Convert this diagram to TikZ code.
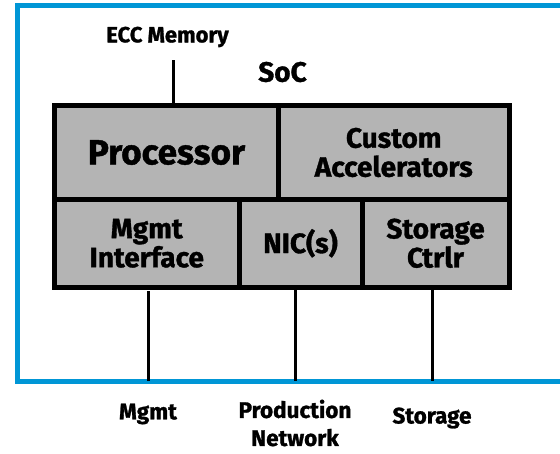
\documentclass[tikz,border=0pt]{standalone}
\usepackage{fontspec}
\setmainfont{Fira Sans}[BoldFeatures={FakeBold=1.2}]
\usetikzlibrary{positioning}

\definecolor{hpblue}{HTML}{0096D6}
\definecolor{cellgray}{HTML}{B4B4B4}

\tikzset{
  cell/.style={draw, line width=5pt, fill=cellgray, inner sep=0pt, outer sep=0pt,
    anchor=north west, align=center, font=\bfseries\fontsize{28}{29}\selectfont},
  lbl/.style={align=center, font=\bfseries\fontsize{22.5}{28}\selectfont},
  link/.style={line width=3pt}
}

\begin{document}
\begin{tikzpicture}[x=1pt, y=-1pt]
  \useasboundingbox (0,0) rectangle (560,453);
  % blue frame, its right side runs off the page
  \draw[hpblue, line width=5pt] (620,5.5) -- (17.5,5.5) -- (17.5,381) -- (620,381);
  % SoC blocks, top row
  \node[cell, minimum width=224pt, minimum height=94pt,
        font=\bfseries\fontsize{35}{40}\selectfont] (proc) at (54.5,105.5) {Processor};
  \node[cell, minimum width=230.5pt, minimum height=94pt] (accel) at (278.5,105.5) {Custom\\Accelerators};
  % SoC blocks, bottom row
  \node[cell, minimum width=184.5pt, minimum height=87.5pt] (mgmtif) at (54.5,199.5) {Mgmt\\Interface};
  \node[cell, minimum width=123pt, minimum height=87.5pt] (nic) at (239,199.5) {NIC(s)};
  \node[cell, minimum width=147pt, minimum height=87.5pt] (stor) at (362,199.5) {Storage\\Ctrlr};
  % labels
  \node[lbl, font=\bfseries\fontsize{22}{28}\selectfont] (ecc) at (167.5,37) {ECC Memory};
  \node[lbl, font=\bfseries\fontsize{28}{28}\selectfont] (soc) at (282.5,72) {SoC};
  \node[lbl] (mgmt) at (148,414) {Mgmt};
  \node[lbl] (prodnet) at (295,423) {Production\\Network};
  \node[lbl] (storage) at (432,418) {Storage};
  % connectors
  \coordinate (eccpin) at (173,60);
  \coordinate (frameb) at (0,381);
  \draw[link] (eccpin) -- (eccpin |- proc.north);
  \draw[link] ([yshift=-4pt]mgmtif.south -| mgmt) -- (mgmt |- frameb);
  \draw[link] (nic.south -| prodnet) -- (prodnet |- frameb);
  \draw[link] ([yshift=-2pt]stor.south -| storage) -- (storage |- frameb);
\end{tikzpicture}
\end{document}
